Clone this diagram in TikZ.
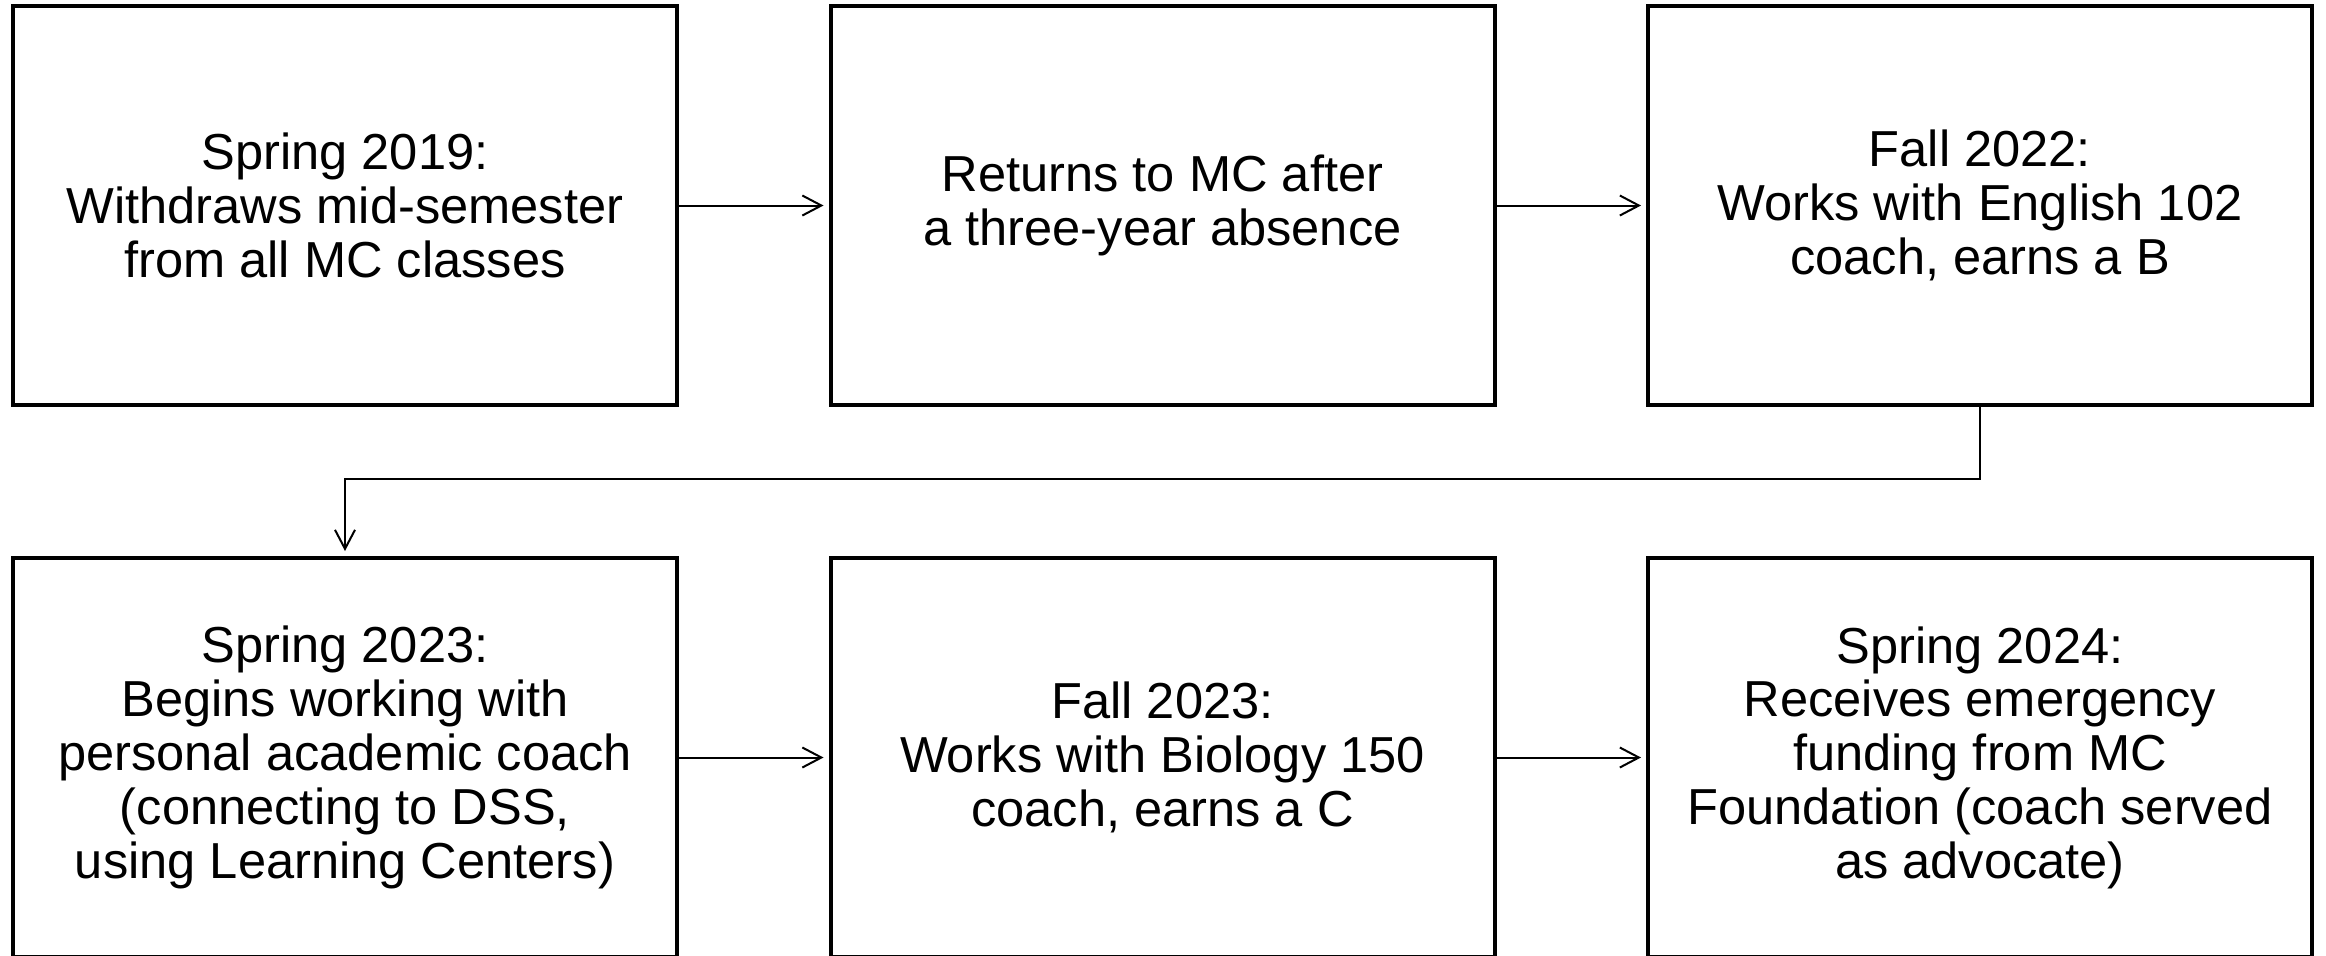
\documentclass[tikz,border=0pt]{standalone}
\usepackage{fontspec}
\setmainfont{Liberation Sans}
\usetikzlibrary{arrows.meta}
\begin{document}
\begin{tikzpicture}[x=0.5pt,y=-0.5pt,
  box/.style={draw=black, line width=2pt, minimum width=332pt, minimum height=199.5pt,
    inner sep=0pt, align=center, font=\fontsize{25.3}{26.9}\selectfont},
  arr/.style={line width=1pt, -{Straight Barb[length=9.5pt,width=10pt,line width=1pt]}, shorten >=2.5pt}]
\useasboundingbox[fill=white] (0,0) rectangle (2326,955);
\node[box] (n1) at (345,205.5) {Spring 2019:\\Withdraws mid-semester\\from all MC classes};
\node[box] (n2) at (1162.5,205.5) {Returns to MC after\\a three-year absence};
\node[box] (n3) at (1980,205.5) {Fall 2022:\\Works with English 102\\coach, earns a B};
\node[box] (n4) at (345,757.5) {Spring 2023:\\Begins working with\\personal academic coach\\(connecting to DSS,\\using Learning Centers)};
\node[box] (n5) at (1162.5,757.5) {Fall 2023:\\Works with Biology 150\\coach, earns a C};
\node[box] (n6) at (1980,757.5) {Spring 2024:\\Receives emergency\\funding from MC\\Foundation (coach served\\as advocate)};
\draw[arr] (n1) -- (n2);
\draw[arr] (n2) -- (n3);
\draw[arr] (n4) -- (n5);
\draw[arr] (n5) -- (n6);
\draw[arr] (n3.south) |- ([yshift=38.5pt]n4.north) -- (n4.north);
\end{tikzpicture}
\end{document}
